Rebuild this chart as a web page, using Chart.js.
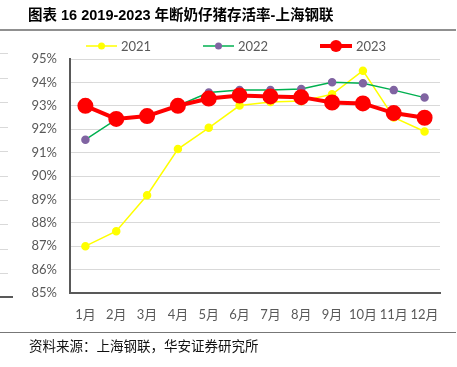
<!DOCTYPE html>
<html>
<head>
<meta charset="utf-8">
<script src="https://cdn.jsdelivr.net/npm/chart.js@4/dist/chart.umd.min.js"></script>
<style>
  html, body { margin: 0; padding: 0; background: #fff; }
  canvas { display: block; }
</style>
</head>
<body>
<canvas id="chart" width="457" height="367"></canvas>
<script>
'use strict';

// ***** DATA *****
let months = ['1月', '2月', '3月', '4月', '5月', '6月', '7月', '8月', '9月', '10月', '11月', '12月'];
let seriesNames = ['2021', '2022', '2023'];
let values2021 = [87.0, 87.64, 89.18, 91.15, 92.06, 93.01, 93.16, 93.2, 93.49, 94.5, 92.5, 91.9];
let values2022 = [91.55, 92.42, 92.55, 93.0, 93.57, 93.68, 93.68, 93.72, 94.01, 93.96, 93.67, 93.35];
let values2023 = [93.0, 92.44, 92.56, 93.0, 93.31, 93.44, 93.4, 93.37, 93.14, 93.1, 92.69, 92.49];
let yTicks = [85, 86, 87, 88, 89, 90, 91, 92, 93, 94, 95];

let titleText = '图表 16 2019-2023 年断奶仔猪存活率-上海钢联';
let sourceText = '资料来源：上海钢联，华安证券研究所';

let canvasElem = document.getElementById('chart');
let labelFont = "Lato, 'Noto Sans CJK SC', sans-serif";

// ***** PLUGIN: title, legend, rules, source *****
let decorPlugin = {
  id: 'decor',
  afterDraw(chart) {
    let ctx = chart.ctx;
    ctx.save();

    // title
    ctx.fillStyle = '#000';
    ctx.font = "bold 14.5px 'Liberation Sans', 'Noto Sans CJK SC', sans-serif";
    ctx.textBaseline = 'middle';
    ctx.textAlign = 'left';
    ctx.fillText(titleText, 28, 16);

    // rule under title
    ctx.strokeStyle = '#222';
    ctx.lineWidth = 1.2;
    ctx.beginPath();
    ctx.moveTo(0, 30);
    ctx.lineTo(456, 30);
    ctx.stroke();

    // rule above source
    ctx.strokeStyle = '#777';
    ctx.lineWidth = 1;
    ctx.beginPath();
    ctx.moveTo(0, 332.5);
    ctx.lineTo(456, 332.5);
    ctx.stroke();

    // bits of the neighbouring chart at the left edge
    ctx.strokeStyle = '#d9d9d9';
    [53, 78, 102, 127, 151, 176, 200, 224, 249, 273].forEach(function (y) {
      ctx.beginPath();
      ctx.moveTo(0, y + 0.5);
      ctx.lineTo(8, y + 0.5);
      ctx.stroke();
    });
    ctx.strokeStyle = '#222';
    ctx.lineWidth = 1.5;
    ctx.beginPath();
    ctx.moveTo(0, 297);
    ctx.lineTo(13, 297);
    ctx.stroke();

    // source
    ctx.fillStyle = '#111';
    ctx.font = "13.5px 'Noto Sans CJK SC', sans-serif";
    ctx.fillText(sourceText, 29, 346);

    // legend
    let legendX = [86, 203, 320];
    let textX = [121, 238, 356];
    let ly = 46;
    chart.data.datasets.forEach(function (ds, i) {
      let x0 = legendX[i];
      let x1 = textX[i] - 4;
      ctx.strokeStyle = ds.borderColor;
      ctx.lineWidth = ds.borderWidth;
      ctx.beginPath();
      ctx.moveTo(x0, ly);
      ctx.lineTo(x1, ly);
      ctx.stroke();
      ctx.fillStyle = ds.pointBackgroundColor;
      ctx.beginPath();
      ctx.arc((x0 + x1) / 2, ly, ds.pointRadius, 0, Math.PI * 2);
      ctx.fill();
      ctx.fillStyle = '#595959';
      ctx.font = '13px ' + labelFont;
      ctx.fillText(ds.label, textX[i], ly + 1);
    });

    ctx.restore();
  }
};

// ***** CHART *****
let chartObj = {
  type: 'line',
  data: {
    labels: months,
    datasets: [{
      label: seriesNames[0],
      data: values2021,
      borderColor: '#FFFF00',
      backgroundColor: '#FFFF00',
      pointBackgroundColor: '#FFFF00',
      pointBorderColor: '#FFFF00',
      borderWidth: 1.5,
      pointRadius: 3.5,
      order: 3
    },
    {
      label: seriesNames[1],
      data: values2022,
      borderColor: '#00B050',
      backgroundColor: '#00B050',
      pointBackgroundColor: '#8064A2',
      pointBorderColor: '#8064A2',
      borderWidth: 1.5,
      pointRadius: 3.5,
      order: 2
    },
    {
      label: seriesNames[2],
      data: values2023,
      borderColor: '#FF0000',
      backgroundColor: '#FF0000',
      pointBackgroundColor: '#FF0000',
      pointBorderColor: '#FF0000',
      borderWidth: 4,
      pointRadius: 6,
      order: 1
    }]
  },
  options: {
    responsive: false,
    animation: false,
    devicePixelRatio: 1,
    layout: { padding: { top: 59, right: 17, left: 0, bottom: 0 } },
    plugins: {
      legend: { display: false },
      title: { display: false },
      tooltip: { enabled: false }
    },
    elements: { line: { tension: 0 }, point: { borderWidth: 0 } },
    scales: {
      x: {
        offset: true,
        grid: { display: false },
        border: { color: '#595959', width: 2 },
        ticks: { color: '#595959', font: { size: 13, family: labelFont }, padding: 6, maxRotation: 0, autoSkip: false },
        afterFit(scale) { scale.height = 74; }
      },
      y: {
        min: yTicks[0],
        max: yTicks[yTicks.length - 1],
        afterBuildTicks(scale) { scale.ticks = yTicks.map(function (v) { return { value: v }; }); },
        grid: { color: '#D9D9D9', lineWidth: 1, drawTicks: false },
        border: { color: '#595959', width: 2 },
        ticks: {
          color: '#595959',
          font: { size: 13, family: labelFont },
          padding: 13,
          callback: function (v) { return v + '%'; }
        },
        afterFit(scale) { scale.width = 70; }
      }
    }
  },
  plugins: [decorPlugin]
};

new Chart(canvasElem, chartObj);
</script>
</body>
</html>
